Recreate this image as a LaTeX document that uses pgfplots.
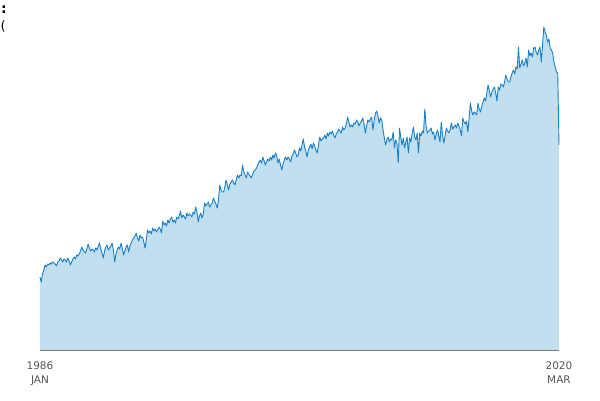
\documentclass[border=0pt]{standalone}
\usepackage{pgfplots}
\usepackage{pgfplotstable}
\usepackage{fontspec}
\setmainfont{DejaVu Sans}
\pgfplotsset{compat=1.18}
\definecolor{lineblue}{RGB}{24,128,200}
\definecolor{fillblue}{RGB}{194,223,240}
\definecolor{labelgray}{RGB}{85,85,85}
\definecolor{axisgray}{RGB}{110,110,110}

% monthly values, Jan 1986 .. Mar 2020 (arbitrary units)
\pgfplotstableread{
v
73
68
76
80
85
83
86
85
87
86
88
87
86
84
88
89
92
90
88
91
90
88
92
89
85
88
91
93
91
95
94
96
99
103
100
98
97
101
106
102
99
101
100
98
102
100
104
107
101
97
92
99
103
105
100
102
104
107
100
88
96
100
103
101
107
102
95
99
103
105
98
104
107
110
112
114
117
112
109
115
112
113
108
102
111
120
117
119
116
122
119
121
118
120
123
121
117
129
125
127
124
130
127
131
133
128
130
127
133
131
134
139
132
135
133
131
137
134
136
135
133
138
136
143
138
128
134
137
132
136
147
144
146
148
143
145
147
152
149
146
142
150
165
160
158
158
163
170
165
160
166
168
170
167
165
170
175
172
175
174
185
178
175
172
178
176
174
172
176
179
180
182
185
188
190
187
193
189
185
188
191
189
193
190
195
192
197
194
187
191
185
180
186
190
193
190
193
191
188
194
196
200
197
193
195
202
199
205
211
203
199
193
200
203
206
201
207
204
200
197
205
213
209
211
212
215
211
217
214
218
216
219
215
212
216
218
221
219
217
223
220
222
226
233
228
223
225
223
227
226
230
228
224
227
229
232
226
217
224
230
228
231
233
220
230
237
239
234
227
232
230
220
212
205
210
213
208
211
210
218
202
210
207
187
222
213
205
212
202
208
213
197
212
208
217
223
213
210
217
197
217
214
219
217
241
224
217
219
220
222
216
218
210
216
220
214
208
228
215
207
214
222
219
217
220
227
221
223
225
222
227
224
220
214
232
228
226
229
218
232
247
239
235
238
237
235
247
241
238
244
248
252
249
257
265
259
253
258
261
263
257
249
263
260
266
265
263
268
275
271
268
268
273
277
280
276
283
281
303
282
286
290
284
287
292
283
300
294
297
293
302
303
298
295
300
303
288
305
323
318
315
308
311
302
300
297
288
283
278
277
205
}\series

\begin{document}
\begin{tikzpicture}[x=1pt,y=1pt]
\path[use as bounding box] (-40,-50) rectangle (560,350);
\begin{axis}[
    at={(0,0)}, anchor=origin,
    scale only axis,
    width=519pt,
    height=330pt,
    xmin=0, xmax=410,
    ymin=0, ymax=330,
    axis x line=bottom,
    axis y line=none,
    x axis line style={axisgray, line width=0.8pt, -},
    xtick={0,410},
    xticklabels={1986\\JAN, 2020\\MAR},
    xticklabel style={align=center, font=\fontsize{10.5}{14}\selectfont, text=labelgray, yshift=-8pt},
    major tick length=0pt,
    ytick=\empty,
    clip=false,
]
\addplot[fill=fillblue, draw=none] table[x expr=\coordindex, y=v] {\series} \closedcycle;
\addplot[lineblue, line width=0.9pt, line join=round] table[x expr=\coordindex, y=v] {\series};
\end{axis}
\node[anchor=north west, inner sep=0pt, font=\fontsize{14}{16}\selectfont\bfseries] at (-39,344) {:};
\node[anchor=north west, inner sep=0pt, font=\fontsize{13}{16}\selectfont] at (-39.5,330) {(};
\end{tikzpicture}
\end{document}
